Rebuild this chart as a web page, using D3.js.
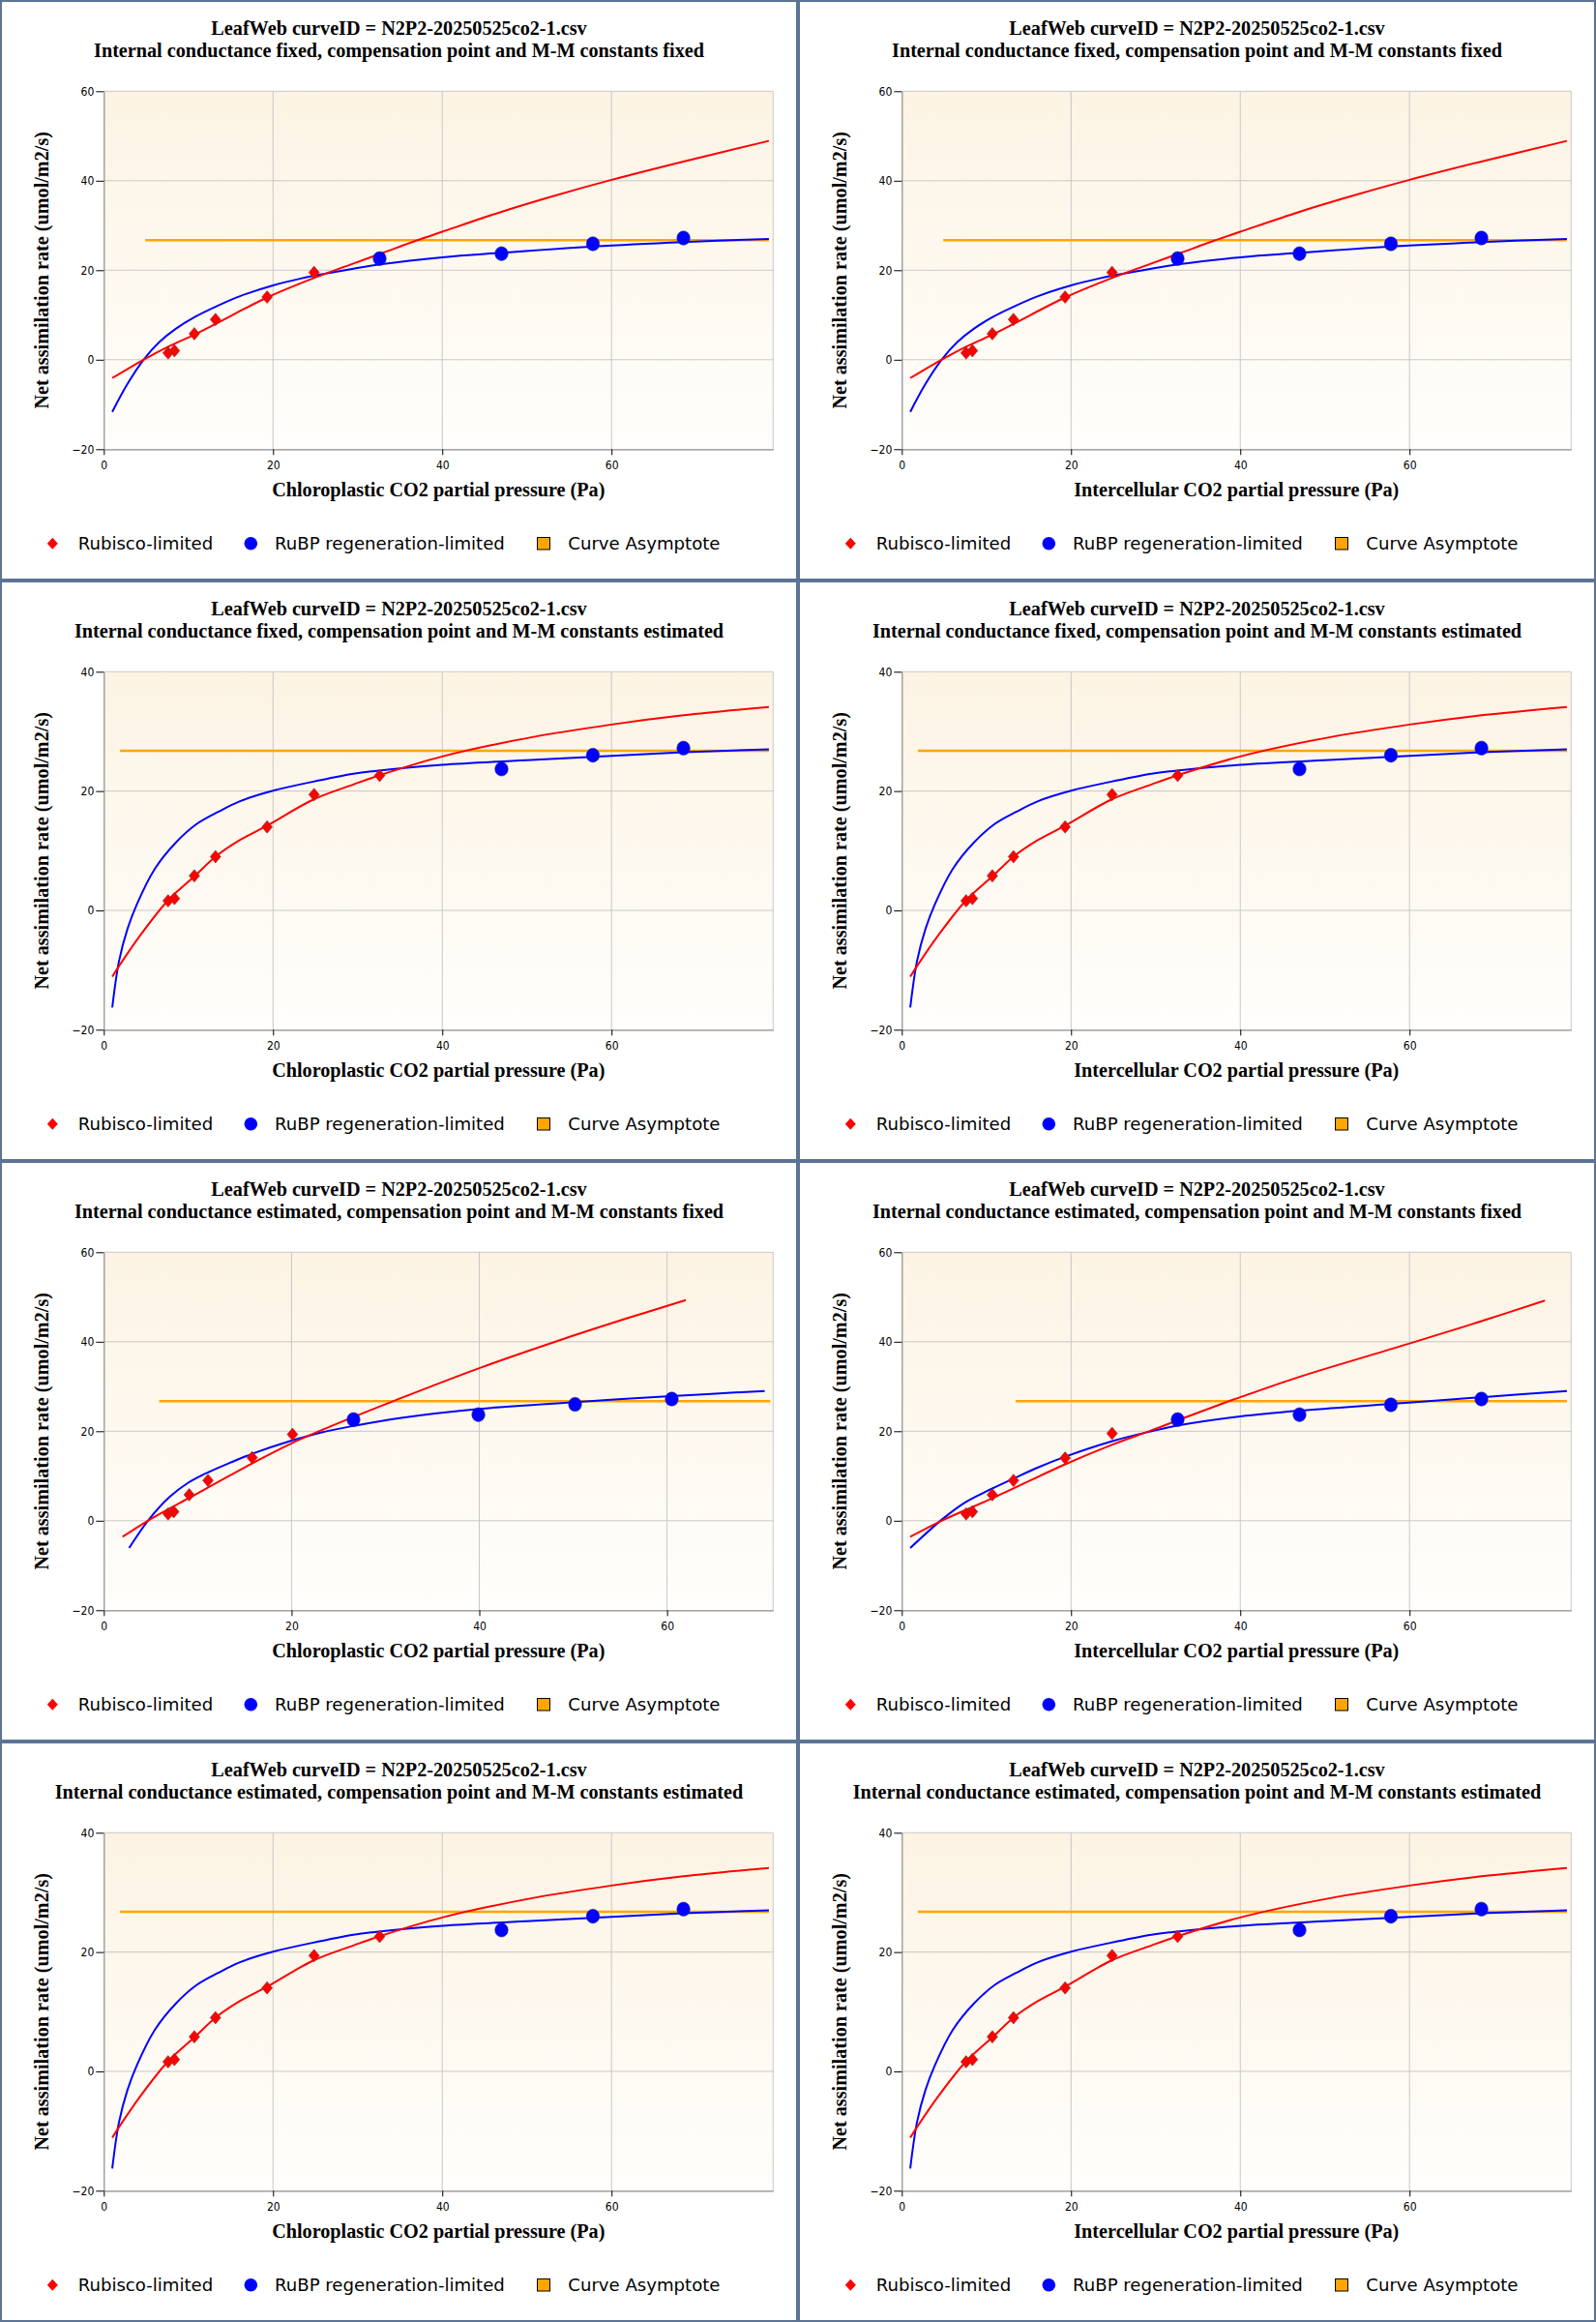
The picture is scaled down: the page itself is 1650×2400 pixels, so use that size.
<!DOCTYPE html>
<html><head><meta charset="utf-8">
<script src="https://cdn.jsdelivr.net/npm/d3@7"></script>
<style>
body{margin:0;background:#fff;}
svg{display:block;}
</style></head>
<body>
<svg id="chart" width="1650" height="2400"></svg>
<script>
// ---------------- DATA ----------------
const titleLine1 = "LeafWeb curveID = N2P2-20250525co2-1.csv";
const subtitles = [
  "Internal conductance fixed, compensation point and M-M constants fixed",
  "Internal conductance fixed, compensation point and M-M constants estimated",
  "Internal conductance estimated, compensation point and M-M constants fixed",
  "Internal conductance estimated, compensation point and M-M constants estimated"
];
const xAxisLabels = ["Chloroplastic CO2 partial pressure (Pa)", "Intercellular CO2 partial pressure (Pa)"];
const yAxisLabel = "Net assimilation rate (umol/m2/s)";
const legendLabels = ["Rubisco-limited", "RuBP regeneration-limited", "Curve Asymptote"];

const xTicks = [0, 20, 40, 60];
const yTicksTall = [-20, 0, 20, 40, 60];
const yTicksShort = [-20, 0, 20, 40];

// Set A: row 1 (gm fixed, constants fixed)
const A_rub_x = [7.6, 8.35, 10.7, 13.2, 19.3, 24.85];
const A_rub_y = [1.5, 2.0, 5.8, 9.0, 14.0, 19.5];
const A_rubp_x = [32.6, 47.0, 57.8, 68.5];
const A_rubp_y = [22.6, 23.7, 25.9, 27.2];
const A_wc_x = [1.0, 4.7, 7.6, 10.7, 13.2, 19.3, 24.9, 29.5, 33.0, 36.9, 40.0, 46.9, 53.0, 60.0, 68.5, 78.6];
const A_wc_y = [-4.1, 0.0, 2.9, 5.6, 8.0, 13.9, 18.3, 21.5, 23.9, 26.6, 28.6, 33.0, 36.5, 40.2, 44.3, 48.9];
const A_wj_x = [1.0, 2.8, 4.7, 6.6, 8.5, 10.8, 13.5, 16.1, 20.0, 23.4, 26.4, 29.5, 32.6, 40.0, 47.0, 57.8, 68.5, 78.6];
const A_wj_y = [-11.65, -5.4, 0.0, 4.0, 6.9, 9.6, 12.1, 14.2, 16.6, 18.2, 19.3, 20.35, 21.3, 22.9, 23.9, 25.3, 26.3, 27.0];
const A_asym_x = [4.9, 78.6];
const A_asym_y = 26.7;
const A_xmax = 79.1;

// Set B: rows 2 and 4 (constants estimated)
const B_rub_x = [7.6, 8.35, 10.7, 13.2, 19.3, 24.85, 32.6];
const B_rub_y = [1.6, 2.0, 5.8, 9.0, 14.0, 19.4, 22.6];
const B_rubp_x = [47.0, 57.8, 68.5];
const B_rubp_y = [23.7, 26.0, 27.2];
const B_wc_x = [1.0, 2.0, 4.3, 7.6, 10.7, 13.2, 16.1, 19.3, 24.8, 29.5, 32.7, 40.0, 50.5, 60.0, 68.5, 78.6];
const B_wc_y = [-11.1, -8.9, -4.2, 1.7, 5.7, 9.0, 11.8, 14.2, 18.6, 21.1, 22.7, 25.8, 29.0, 31.15, 32.7, 34.1];
const B_wj_x = [1.0, 1.8, 2.8, 3.9, 6.0, 8.5, 11.0, 13.5, 16.1, 20.0, 24.5, 29.5, 32.0, 40.0, 50.5, 60.0, 68.5, 78.6];
const B_wj_y = [-16.3, -8.5, -3.1, 1.0, 6.9, 11.35, 14.5, 16.5, 18.3, 20.05, 21.5, 22.9, 23.35, 24.4, 25.2, 25.9, 26.5, 27.0];
const B_asym_x = [1.9, 78.6];
const B_asym_y = 26.75;
const B_xmax = 79.1;

// Set C: row 3 left (gm estimated, chloroplastic)
const C_rub_x = [6.85, 7.45, 9.1, 11.1, 15.8, 20.1];
const C_rub_y = [1.5, 2.0, 5.8, 9.0, 14.1, 19.3];
const C_rubp_x = [26.6, 39.9, 50.2, 60.5];
const C_rubp_y = [22.6, 23.7, 26.0, 27.2];
const C_wc_x = [2.0, 4.7, 9.1, 15.8, 20.0, 26.5, 30.8, 40.0, 48.8, 56.0, 62.0];
const C_wc_y = [-3.6, 0.0, 5.1, 12.8, 17.3, 23.1, 26.7, 34.1, 40.5, 45.4, 49.3];
const C_wj_x = [2.7, 4.7, 7.0, 9.0, 11.1, 13.5, 15.8, 20.0, 23.1, 26.5, 31.7, 40.0, 50.2, 60.0, 70.4];
const C_wj_y = [-6.1, 0.0, 5.3, 8.5, 10.8, 13.0, 14.95, 17.9, 19.7, 21.15, 23.0, 25.0, 26.5, 27.8, 29.0];
const C_asym_x = [5.9, 71.0];
const C_asym_y = 26.7;
const C_xmax = 71.3;

// Set D: row 3 right (gm estimated, intercellular)
const D_rub_x = [7.6, 8.35, 10.7, 13.2, 19.3, 24.85];
const D_rub_y = [1.5, 2.0, 5.8, 9.0, 14.0, 19.5];
const D_rubp_x = [32.6, 47.0, 57.8, 68.5];
const D_rubp_y = [22.6, 23.7, 25.9, 27.2];
const D_wc_x = [1.0, 4.7, 10.7, 19.3, 24.9, 29.5, 32.7, 38.2, 40.0, 46.9, 60.0, 68.5, 76.0];
const D_wc_y = [-3.6, 0.0, 5.0, 12.6, 17.0, 20.2, 22.5, 26.4, 27.6, 32.1, 39.6, 44.6, 49.2];
const D_wj_x = [1.0, 4.7, 7.4, 10.7, 13.3, 16.1, 19.3, 24.9, 29.5, 32.7, 40.0, 47.0, 57.8, 68.5, 78.6];
const D_wj_y = [-6.1, 0.2, 4.0, 7.2, 9.5, 11.9, 14.3, 17.8, 20.0, 21.3, 23.3, 24.6, 26.1, 27.6, 29.0];
const D_asym_x = [13.45, 78.6];
const D_asym_y = 26.7;
const D_xmax = 79.1;

// ---------------- BUILD ----------------
const zip = (xs, ys) => xs.map((v, i) => [v, ys[i]]);
function makeSet(rx, ry, px, py, cx, cy, jx, jy, ax, ay, xmax, yt) {
  return {rub: zip(rx, ry), rubp: zip(px, py), wc: zip(cx, cy), wj: zip(jx, jy),
          asym: ax.map(v => [v, ay]), xmax: xmax, yTicks: yt};
}
const setA = makeSet(A_rub_x, A_rub_y, A_rubp_x, A_rubp_y, A_wc_x, A_wc_y, A_wj_x, A_wj_y, A_asym_x, A_asym_y, A_xmax, yTicksTall);
const setB = makeSet(B_rub_x, B_rub_y, B_rubp_x, B_rubp_y, B_wc_x, B_wc_y, B_wj_x, B_wj_y, B_asym_x, B_asym_y, B_xmax, yTicksShort);
const setC = makeSet(C_rub_x, C_rub_y, C_rubp_x, C_rubp_y, C_wc_x, C_wc_y, C_wj_x, C_wj_y, C_asym_x, C_asym_y, C_xmax, yTicksTall);
const setD = makeSet(D_rub_x, D_rub_y, D_rubp_x, D_rubp_y, D_wc_x, D_wc_y, D_wj_x, D_wj_y, D_asym_x, D_asym_y, D_xmax, yTicksTall);

const panels = [
  {row: 0, col: 0, set: setA}, {row: 0, col: 1, set: setA},
  {row: 1, col: 0, set: setB}, {row: 1, col: 1, set: setB},
  {row: 2, col: 0, set: setC}, {row: 2, col: 1, set: setD},
  {row: 3, col: 0, set: setB}, {row: 3, col: 1, set: setB}
];

const PW = 825, PH = 600;
const L = 107.3, R = 799.3, T = 94.3, B = 464.3;
const serif = "'Liberation Serif','Times New Roman',serif";
const sans = "'DejaVu Sans Condensed','DejaVu Sans',sans-serif";
const legendFont = "'DejaVu Sans',sans-serif";
const RED = "#ff0000", BLUE = "#0000ff", ORANGE = "#ffa500", BORDER = "#5c7393";
const TITLE_SIZE = 20.2;

const svg = d3.select('#chart');
const defs = svg.append('defs');
const grad = defs.append('linearGradient').attr('id', 'plotbg')
  .attr('x1', 0).attr('y1', 0).attr('x2', 0).attr('y2', 1);
grad.append('stop').attr('offset', '0%').attr('stop-color', '#fcf3e3');
grad.append('stop').attr('offset', '100%').attr('stop-color', '#fffefc');

const diamondPath = (w, h) => `M0,${-h/2}L${w/2},0L0,${h/2}L${-w/2},0Z`;

panels.forEach((p, i) => {
  const s = p.set;
  const g = svg.append('g').attr('transform', `translate(${p.col * PW},${p.row * PH})`);
  g.append('rect').attr('width', PW).attr('height', PH).attr('fill', '#fff');

  // titles
  g.append('text').attr('x', PW / 2).attr('y', 36).attr('text-anchor', 'middle')
    .attr('font-family', serif).attr('font-weight', 'bold').attr('font-size', TITLE_SIZE)
    .text(titleLine1);
  g.append('text').attr('x', PW / 2).attr('y', 59).attr('text-anchor', 'middle')
    .attr('font-family', serif).attr('font-weight', 'bold').attr('font-size', TITLE_SIZE)
    .text(subtitles[p.row]);

  const x = d3.scaleLinear().domain([0, s.xmax]).range([L, R]);
  const yt = s.yTicks;
  const y = d3.scaleLinear().domain([yt[0], yt[yt.length - 1]]).range([B, T]);

  // plot background
  g.append('rect').attr('x', L).attr('y', T).attr('width', R - L).attr('height', B - T)
    .attr('fill', 'url(#plotbg)');

  // grid
  g.selectAll('.vg').data(xTicks.filter(t => t > 0)).enter().append('line')
    .attr('x1', d => x(d)).attr('x2', d => x(d)).attr('y1', T).attr('y2', B)
    .attr('stroke', '#c8c8c8').attr('stroke-width', 1);
  g.selectAll('.hg').data(yt.slice(1)).enter().append('line')
    .attr('x1', L).attr('x2', R).attr('y1', d => y(d)).attr('y2', d => y(d))
    .attr('stroke', '#c8c8c8').attr('stroke-width', 1);
  g.append('line').attr('x1', R).attr('x2', R).attr('y1', T).attr('y2', B)
    .attr('stroke', '#c8c8c8').attr('stroke-width', 1);

  // axes
  const xa = g.append('g').attr('transform', `translate(0,${B})`)
    .call(d3.axisBottom(x).tickValues(xTicks).tickFormat(d3.format('d')).tickSize(6).tickSizeOuter(0).tickPadding(6));
  const ya = g.append('g').attr('transform', `translate(${L},0)`)
    .call(d3.axisLeft(y).tickValues(yt).tickFormat(d3.format('d')).tickSize(8).tickSizeOuter(0).tickPadding(2));
  [xa, ya].forEach(a => {
    a.select('.domain').attr('stroke', '#8c8c8c').attr('stroke-width', 1.2);
    a.selectAll('.tick line').attr('stroke', '#000');
    a.selectAll('.tick text').attr('font-family', sans).attr('font-size', 12).attr('fill', '#000');
  });

  // axis titles
  g.append('text').attr('x', (L + R) / 2).attr('y', 512.5).attr('text-anchor', 'middle')
    .attr('font-family', serif).attr('font-weight', 'bold').attr('font-size', TITLE_SIZE)
    .text(xAxisLabels[p.col]);
  g.append('text').attr('transform', `translate(49.5,${(T + B) / 2}) rotate(-90)`)
    .attr('text-anchor', 'middle')
    .attr('font-family', serif).attr('font-weight', 'bold').attr('font-size', TITLE_SIZE)
    .text(yAxisLabel);

  // clip
  const cid = 'clip' + i;
  defs.append('clipPath').attr('id', cid).append('rect')
    .attr('x', L).attr('y', T).attr('width', R - L).attr('height', B - T);
  const pg = g.append('g').attr('clip-path', `url(#${cid})`);

  const line = d3.line().x(d => x(d[0])).y(d => y(d[1]));
  const smooth = d3.line().x(d => x(d[0])).y(d => y(d[1])).curve(d3.curveCatmullRom.alpha(0.5));

  pg.append('path').datum(s.asym).attr('d', line).attr('fill', 'none')
    .attr('stroke', ORANGE).attr('stroke-width', 2.5);
  pg.append('path').datum(s.wj).attr('d', smooth).attr('fill', 'none')
    .attr('stroke', BLUE).attr('stroke-width', 2);
  pg.append('path').datum(s.wc).attr('d', smooth).attr('fill', 'none')
    .attr('stroke', RED).attr('stroke-width', 2);

  pg.selectAll('.rub').data(s.rub).enter().append('path')
    .attr('transform', d => `translate(${x(d[0])},${y(d[1])})`)
    .attr('d', diamondPath(11, 13)).attr('fill', RED)
    .attr('stroke', '#7a3a3a').attr('stroke-width', 0.6);
  pg.selectAll('.rubp').data(s.rubp).enter().append('ellipse')
    .attr('cx', d => x(d[0])).attr('cy', d => y(d[1])).attr('rx', 6.8).attr('ry', 7.3)
    .attr('fill', BLUE).attr('stroke', '#2a2a8a').attr('stroke-width', 0.5);

  // legend
  const lg = g.append('g');
  lg.append('path').attr('transform', 'translate(54.3,561.7)').attr('d', diamondPath(11, 12)).attr('fill', RED);
  lg.append('circle').attr('cx', 259.3).attr('cy', 561.7).attr('r', 6.8).attr('fill', BLUE);
  lg.append('rect').attr('x', 555.5).attr('y', 555.5).attr('width', 13).attr('height', 12.5)
    .attr('fill', ORANGE).attr('stroke', '#000').attr('stroke-width', 1);
  const lx = [80.7, 284, 587.3];
  legendLabels.forEach((t, k) => {
    lg.append('text').attr('x', lx[k]).attr('y', 567.5)
      .attr('font-family', legendFont).attr('font-size', 18.1).attr('fill', '#000').text(t);
  });
});

// borders on top
panels.forEach(p => {
  svg.append('rect').attr('x', p.col * PW).attr('y', p.row * PH)
    .attr('width', PW).attr('height', PH)
    .attr('fill', 'none').attr('stroke', BORDER).attr('stroke-width', 4);
});
</script>
</body></html>
